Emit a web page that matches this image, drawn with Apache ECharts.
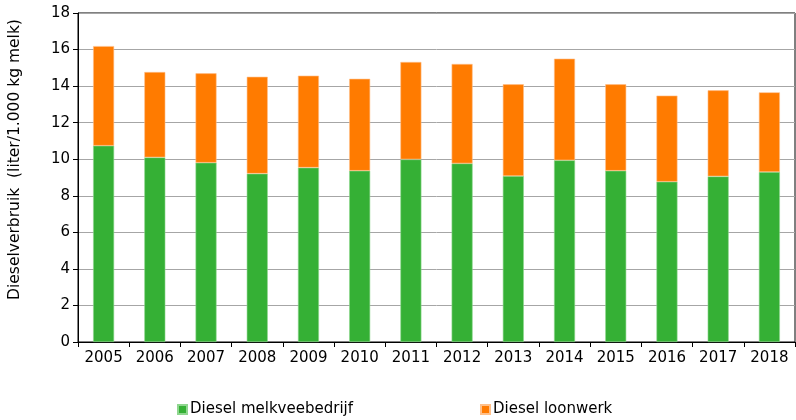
<!DOCTYPE html>
<html>
<head>
<meta charset="utf-8">
<script src="https://cdn.jsdelivr.net/npm/echarts@6/dist/echarts.min.js"></script>
<style>
  html, body { margin: 0; padding: 0; background: #fff; }
  #chart { width: 796px; height: 420px; }
</style>
</head>
<body>
<div id="chart"></div>
<script>
var years = ['2005', '2006', '2007', '2008', '2009', '2010', '2011', '2012', '2013', '2014', '2015', '2016', '2017', '2018'];
// diesel op het melkveebedrijf
var melkvee = [10.74, 10.10, 9.81, 9.21, 9.54, 9.37, 9.99, 9.77, 9.08, 9.94, 9.37, 8.77, 9.06, 9.30];
// diesel via loonwerk
var loonwerk = [5.45, 4.67, 4.89, 5.30, 5.03, 5.03, 5.33, 5.44, 5.02, 5.56, 4.73, 4.71, 4.71, 4.36];

var chart = echarts.init(document.getElementById('chart'));
var font = 'DejaVu Sans';

var legendBase = {
    top: 402,
    itemGap: 0,
    itemWidth: 9,
    itemHeight: 9,
    icon: 'rect',
    padding: 0,
    textStyle: { fontFamily: font, fontSize: 15, color: '#000', padding: [0, 0, 0, -2] }
};

var option = {
    animation: false,
    grid: {
        left: 78,
        right: 1,
        top: 13,
        bottom: 78,
        outerBoundsMode: 'none',
        containLabel: false,
        show: true,
        borderColor: '#000',
        borderWidth: 1
    },
    legend: [
        Object.assign({}, legendBase, { left: 177, data: ['Diesel melkveebedrijf'] }),
        Object.assign({}, legendBase, { left: 480, data: ['Diesel loonwerk'] })
    ],
    xAxis: {
        type: 'category',
        data: years,
        axisLine: { lineStyle: { color: '#000' } },
        axisTick: { show: true, length: 5, lineStyle: { color: '#000' } },
        axisLabel: { fontFamily: font, fontSize: 15, color: '#000', margin: 9 }
    },
    yAxis: {
        type: 'value',
        min: 0,
        max: 18,
        interval: 2,
        name: 'Dieselverbruik  (liter/1.000 kg melk)',
        nameLocation: 'middle',
        nameGap: 55,
        nameTextStyle: { fontFamily: font, fontSize: 15.5, color: '#000', padding: [0, 0, 0, 36] },
        axisLine: { show: true, lineStyle: { color: '#000' } },
        axisTick: { show: true, length: 5, lineStyle: { color: '#000' } },
        axisLabel: { fontFamily: font, fontSize: 15, color: '#000', margin: 8 },
        splitLine: { lineStyle: { color: '#a6a6a6', width: 1 } }
    },
    series: [
        {
            name: 'Diesel melkveebedrijf',
            type: 'bar',
            stack: 'diesel',
            data: melkvee,
            barWidth: 21,
            itemStyle: { color: '#35b035', borderColor: '#8fd68f', borderWidth: 0.6 }
        },
        {
            name: 'Diesel loonwerk',
            type: 'bar',
            stack: 'diesel',
            data: loonwerk,
            barWidth: 21,
            itemStyle: { color: '#ff7b00', borderColor: '#ffc08a', borderWidth: 0.6 }
        }
    ]
};

chart.setOption(option);
</script>
</body>
</html>
